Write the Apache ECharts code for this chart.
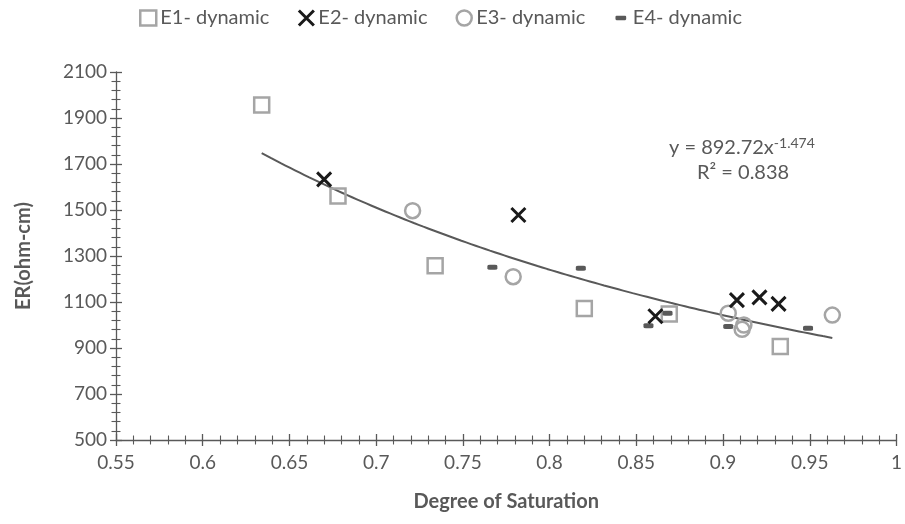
<!DOCTYPE html>
<html>
<head>
<meta charset="utf-8">
<style>html,body{margin:0;padding:0;background:#fff}#chart{width:905px;height:524px}</style>
<script src="https://cdn.jsdelivr.net/npm/echarts@6/dist/echarts.min.js"></script>
</head>
<body>
<div id="chart"></div>
<script>
// ---- data ----
var seriesNames = ['E1- dynamic', 'E2- dynamic', 'E3- dynamic', 'E4- dynamic'];
var e1 = [[0.634, 1957], [0.678, 1561], [0.734, 1258], [0.820, 1072], [0.869, 1048], [0.933, 907]];
var e2 = [[0.670, 1633], [0.782, 1478], [0.861, 1038], [0.908, 1108], [0.921, 1120], [0.932, 1092]];
var e3 = [[0.721, 1497], [0.779, 1210], [0.903, 1051], [0.912, 1000], [0.911, 981], [0.963, 1043]];
var e4 = [[0.767, 1251], [0.818, 1247], [0.857, 997], [0.868, 1051], [0.903, 993], [0.949, 986]];
// trendline (power fit shown on chart): y = a * x^b
var trendA = 892.72, trendB = -1.474;
var trendXRange = [0.634, 0.963];
var equationText = ['y = 892.72x', '-1.474', 'R² = 0.838'];
var xTicks = {min: 0.55, max: 1, interval: 0.05};
var yTicks = {min: 500, max: 2100, interval: 200};

var trend = [];
for (var i = 0; i <= 60; i++) {
  var x = trendXRange[0] + (trendXRange[1] - trendXRange[0]) * i / 60;
  trend.push([x, trendA * Math.pow(x, trendB)]);
}

var FONT = 'Lato, "Open Sans", sans-serif';
var TXT = '#595959';
var AX = '#595959';
var crossPath = 'path://M0,0 L10,10 M10,0 L0,10';
var dashIcon = 'path://M0,0 M14,14 M3,5 L11,5 Q12,5 12,6 L12,8 Q12,9 11,9 L3,9 Q2,9 2,8 L2,6 Q2,5 3,5 Z';

var chart = echarts.init(document.getElementById('chart'), null, {renderer: 'canvas'});

function xAxisBase(inside, showLabels) {
  return {
    type: 'value', min: xTicks.min, max: xTicks.max, interval: xTicks.interval,
    position: 'bottom',
    axisLine: {show: !inside, onZero: false, lineStyle: {color: AX, width: 1.3}},
    axisTick: {show: true, inside: inside, length: 6, lineStyle: {color: AX, width: 1.3}},
    minorTick: {show: true, splitNumber: 5, length: 4.5, lineStyle: {color: AX, width: 1.1}},
    splitLine: {show: false},
    axisLabel: {show: showLabels, color: TXT, fontSize: 19, fontFamily: FONT, margin: 13,
      formatter: function (v) { return +v.toFixed(2) + ''; }},
    name: showLabels ? 'Degree of Saturation' : '',
    nameLocation: 'middle', nameGap: 52,
    nameTextStyle: {color: TXT, fontSize: 20, fontWeight: 'bold', fontFamily: FONT}
  };
}
function yAxisBase(inside, showLabels) {
  return {
    type: 'value', min: yTicks.min, max: yTicks.max, interval: yTicks.interval,
    position: 'left',
    axisLine: {show: !inside, onZero: false, lineStyle: {color: AX, width: 1.3}},
    axisTick: {show: true, inside: inside, length: 6, lineStyle: {color: AX, width: 1.3}},
    minorTick: {show: true, splitNumber: 5, length: 4.5, lineStyle: {color: AX, width: 1.1}},
    splitLine: {show: false},
    axisLabel: {show: showLabels, color: TXT, fontSize: 19, fontFamily: FONT, margin: 9,
      formatter: function (v) { return String(v); }},
    name: showLabels ? 'ER(ohm-cm)' : '',
    nameLocation: 'middle', nameGap: 82, nameRotate: 90,
    nameTextStyle: {color: TXT, fontSize: 20, fontWeight: 'bold', fontFamily: FONT}
  };
}

var option = {
  animation: false,
  backgroundColor: '#fff',
  grid: {left: 116, right: 4, top: 72, bottom: 84, containLabel: false},
  xAxis: [xAxisBase(false, true), xAxisBase(true, false)],
  yAxis: [yAxisBase(false, true), yAxisBase(true, false)],
  legend: {
    top: 3, left: 134, itemGap: 28, itemWidth: 16, itemHeight: 15,
    textStyle: {color: TXT, fontSize: 20, fontFamily: FONT, padding: [0, 0, 0, -1]},
    data: [
      {name: seriesNames[0], icon: 'rect', itemStyle: {color: '#fff', borderColor: '#a5a5a5', borderWidth: 2.5}},
      {name: seriesNames[1], icon: crossPath, itemStyle: {color: 'rgba(0,0,0,0)', borderColor: '#1a1a1a', borderWidth: 3}},
      {name: seriesNames[2], icon: 'circle', itemStyle: {color: '#fff', borderColor: '#a5a5a5', borderWidth: 2.5}},
      {name: seriesNames[3], icon: dashIcon, itemStyle: {color: '#595959', borderWidth: 0}}
    ]
  },
  series: [
    {name: seriesNames[0], type: 'scatter', data: e1, symbol: 'rect', symbolSize: 15, z: 3,
      itemStyle: {color: 'rgba(255,255,255,0)', borderColor: '#a5a5a5', borderWidth: 2.5, opacity: 1}},
    {name: seriesNames[1], type: 'scatter', data: e2, symbol: crossPath, symbolSize: 14, z: 4,
      itemStyle: {color: 'rgba(0,0,0,0)', borderColor: '#1a1a1a', borderWidth: 3, opacity: 1}},
    {name: seriesNames[2], type: 'scatter', data: e3, symbol: 'circle', symbolSize: 15, z: 3,
      itemStyle: {color: 'rgba(255,255,255,0)', borderColor: '#a5a5a5', borderWidth: 2.5, opacity: 1}},
    {name: seriesNames[3], type: 'scatter', data: e4, symbol: 'roundRect', symbolSize: [10, 5], z: 3,
      itemStyle: {color: '#595959', opacity: 1}},
    {name: 'Trend', type: 'line', data: trend, showSymbol: false, smooth: true, z: 2, silent: true,
      lineStyle: {color: '#595959', width: 2}}
  ],
  graphic: [
    {type: 'text', left: 669, top: 136, style: {
      text: '{a|' + equationText[0] + '}{s|' + equationText[1] + '}',
      rich: {
        a: {fontSize: 20, fontFamily: FONT, fill: TXT, color: TXT},
        s: {fontSize: 14, fontFamily: FONT, fill: TXT, color: TXT, verticalAlign: 'top', padding: [0, 0, 9, 0]}
      }
    }},
    {type: 'text', left: 697, top: 163, style: {
      text: equationText[2], fontSize: 20, fontFamily: FONT, fill: TXT
    }}
  ]
};
chart.setOption(option);
</script>
</body>
</html>
